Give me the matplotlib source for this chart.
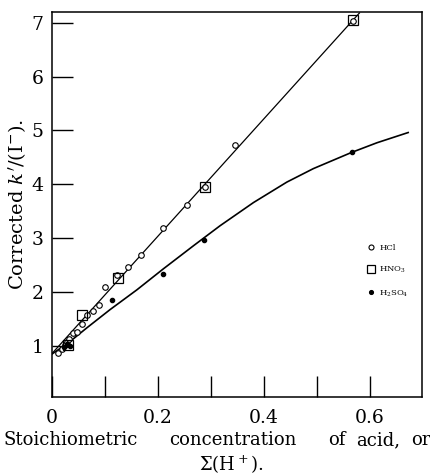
import matplotlib
matplotlib.use("Agg")
import matplotlib.pyplot as plt

plt.rcParams['font.family'] = 'DejaVu Serif'
plt.rcParams['mathtext.fontset'] = 'dejavuserif'

# HCl (open circles)
hcl_x = [0.011, 0.018, 0.024, 0.028, 0.032, 0.040, 0.047, 0.056, 0.066, 0.078,
         0.089, 0.099, 0.122, 0.144, 0.168, 0.210, 0.255, 0.289, 0.345, 0.568]
hcl_y = [0.87, 0.95, 1.02, 1.08, 1.12, 1.23, 1.25, 1.41, 1.58, 1.65,
         1.75, 2.10, 2.32, 2.47, 2.69, 3.18, 3.61, 3.94, 4.72, 7.03]
# HNO3 (open squares)
hno3_x = [0.030, 0.057, 0.124, 0.289, 0.568]
hno3_y = [1.02, 1.58, 2.25, 3.95, 7.05]
# H2SO4 (filled dots)
h2so4_x = [0.022, 0.028, 0.034, 0.113, 0.209, 0.287, 0.566]
h2so4_y = [0.98, 1.03, 1.00, 1.86, 2.34, 2.97, 4.59]

# drawn curves
upper_x = [0.0, 0.58]
upper_y = [0.86, 7.18]
lower_x = [0.0, 0.03, 0.065, 0.109, 0.160, 0.210, 0.267, 0.317, 0.380,
           0.443, 0.493, 0.565, 0.613, 0.672]
lower_y = [0.85, 1.05, 1.33, 1.67, 2.04, 2.43, 2.86, 3.23, 3.66,
           4.04, 4.29, 4.59, 4.77, 4.96]

xlabel_words = ["Stoichiometric", "concentration", "of", "acid,", "or"]
xlabel_pos = [71, 233, 337, 378, 421]   # word centres, pixels

fig = plt.figure(figsize=(4.31, 4.76), dpi=100)
ax = fig.add_axes([0.121, 0.166, 0.858, 0.809])

ax.plot(upper_x, upper_y, color='black', lw=0.9)
ax.plot(lower_x, lower_y, color='black', lw=1.2)

ax.plot(hcl_x, hcl_y, 'o', mfc='white', mec='black', ms=4, mew=0.8, label='HCl')
ax.plot(hno3_x, hno3_y, 's', mfc='none', mec='black', ms=7, mew=0.9, label='HNO$_3$')
ax.plot(h2so4_x, h2so4_y, 'o', color='black', ms=3, label='H$_2$SO$_4$')

ax.set_xlim(0, 0.698)
ax.set_ylim(0.05, 7.2)
ax.set_xticks([0, 0.1, 0.2, 0.3, 0.4, 0.5, 0.6])
ax.set_xticklabels(['0', '', '0.2', '', '0.4', '', '0.6'])
ax.set_yticks([1, 2, 3, 4, 5, 6, 7])
ax.tick_params(direction='in', length=15, width=1.0, labelsize=13.5, pad=6)
ax.tick_params(axis='x', pad=9)
for s in ax.spines.values():
    s.set_linewidth(1.1)

ax.set_ylabel(r"Corrected $k'$/(I$^{-}$).", fontsize=14, labelpad=3)

W, H = 431.0, 476.0
for word, px in zip(xlabel_words, xlabel_pos):
    fig.text(px / W, 1 - 445 / H, word, ha='center', va='baseline', fontsize=13)
fig.text(231 / W, 1 - 471 / H, "\u03a3(H$^+$).", ha='center', va='baseline',
         fontsize=13)

ax.legend(loc='center left', bbox_to_anchor=(0.83, 0.327), frameon=False,
          fontsize=6, handlelength=1.0, handletextpad=0.5, labelspacing=1.6,
          markerscale=0.9)

fig.savefig('out.png', dpi=100)
